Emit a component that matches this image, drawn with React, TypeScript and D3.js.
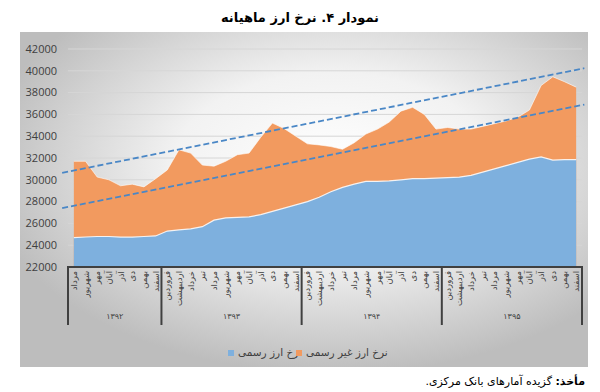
import React from 'react';
import * as d3 from 'd3';

const monthNames = ['فروردین', 'اردیبهشت', 'خرداد', 'تیر', 'مرداد', 'شهریور', 'مهر', 'آبان', 'آذر', 'دی', 'بهمن', 'اسفند'];
const years = ['۱۳۹۲', '۱۳۹۳', '۱۳۹۴', '۱۳۹۵'];
const yearStartMonth = [4, 0, 0, 0];

const officialRate = [
  24700, 24750, 24800, 24800, 24750, 24750, 24800, 24850,
  25300, 25400, 25500, 25700, 26300, 26500, 26550, 26600, 26800, 27100, 27400, 27700,
  28000, 28400, 28900, 29300, 29600, 29850, 29850, 29900, 30000, 30100, 30100, 30150,
  30200, 30250, 30400, 30700, 31000, 31300, 31600, 31900, 32100, 31800, 31850, 31850,
];
const freeRate = [
  31700, 31700, 30250, 30000, 29450, 29600, 29350, 30100,
  30900, 32750, 32450, 31350, 31250, 31700, 32300, 32450, 33900, 35200, 34700, 34000,
  33300, 33200, 33050, 32800, 33400, 34200, 34650, 35300, 36300, 36650, 36000, 34650,
  34800, 34650, 34650, 34900, 35150, 35400, 35750, 36400, 38650, 39450, 39000, 38500,
];
// dashed trend lines: [start, end] values at index positions trendIdx
const trendIdx = [-1, 43.7];
const trendFree = [30640, 40235];
const trendOfficial = [27400, 36900];
const yTicks = [22000, 24000, 26000, 28000, 30000, 32000, 34000, 36000, 38000, 40000, 42000];

const W = 600;
const H = 392;
const BLUE = '#7EB0DE';
const ORANGE = '#F29A5F';
const TREND = '#4A87C6';
const FA = '"DejaVu Sans", sans-serif';

export default function App() {
  const months: { name: string; year: number }[] = [];
  years.forEach((_, yi) => {
    for (let m = yearStartMonth[yi]; m < 12; m++) months.push({ name: monthNames[m], year: yi });
  });

  const x = d3.scaleBand<number>().domain(months.map((_, i) => i)).range([68, 582]);
  const bw = x.bandwidth();
  const cx = (i: number) => (x(i) as number) + bw / 2;
  const xLin = d3.scaleLinear().domain([0, months.length - 1]).range([cx(0), cx(months.length - 1)]);
  const y = d3.scaleLinear().domain([22000, 42000]).range([267, 49]);

  const area = d3.area<number>().x((_, i) => cx(i)).y0(y(22000)).y1(d => y(d));
  const line = d3.line<number>().x((_, i) => cx(i)).y(d => y(d));
  const trendLine = d3.line<number>().x((_, i) => xLin(trendIdx[i])).y(d => y(d));

  const groupStarts: number[] = [];
  const groupCounts = years.map((_, yi) => 12 - yearStartMonth[yi]);
  let acc = 0;
  groupCounts.forEach(c => { groupStarts.push(acc); acc += c; });

  return (
    <div style={{ position: 'absolute', left: 0, top: 0 }}>
      <svg width={W} height={H} style={{ display: 'block' }}>
        <defs>
          <radialGradient id="bg" cx="55%" cy="40%" r="62%">
            <stop offset="0%" stopColor="#ffffff" />
            <stop offset="45%" stopColor="#f2f2f2" />
            <stop offset="100%" stopColor="#bdbdbd" />
          </radialGradient>
        </defs>
        <rect x={0} y={0} width={W} height={H} fill="#fff" />
        <text x={300} y={22} textAnchor="middle" fontFamily={FA} fontWeight="bold" fontSize={13} fill="#000">
          نمودار ۴. نرخ ارز ماهیانه
        </text>
        <rect x={20} y={32} width={568} height={335} fill="url(#bg)" />

        {yTicks.map(t => (
          <g key={t}>
            <line x1={68} x2={582} y1={y(t)} y2={y(t)} stroke="#d6d6d6" strokeWidth={1} />
            <text x={57} y={y(t)} dy="0.35em" textAnchor="end" fontFamily="'Open Sans', sans-serif" fontSize={11} fill="#404040">
              {t}
            </text>
          </g>
        ))}

        <path d={area(freeRate) || ''} fill={ORANGE} />
        <path d={line(freeRate) || ''} fill="none" stroke="#fff" strokeOpacity={0.6} strokeWidth={1} />
        <path d={area(officialRate) || ''} fill={BLUE} />
        <path d={line(officialRate) || ''} fill="none" stroke="#fff" strokeOpacity={0.85} strokeWidth={1.2} />

        <path d={trendLine(trendFree) || ''} fill="none" stroke={TREND} strokeWidth={1.8} strokeDasharray="6,3" />
        <path d={trendLine(trendOfficial) || ''} fill="none" stroke={TREND} strokeWidth={1.8} strokeDasharray="6,3" />

        {/* category axis */}
        <line x1={67} x2={583} y1={267} y2={267} stroke="#404040" strokeWidth={2} />
        {groupStarts.map((s, gi) => (
          <line key={'s' + gi} x1={x(s) as number} x2={x(s) as number} y1={266} y2={325} stroke="#404040" strokeWidth={2} />
        ))}
        <line x1={582} x2={582} y1={266} y2={325} stroke="#404040" strokeWidth={2} />
        {months.map((m, i) => (
          <text
            key={'m' + i}
            transform={`translate(${cx(i) + 3},271) rotate(-90)`}
            textAnchor="end"
            fontFamily={FA}
            fontSize={8.5}
            fill="#404040"
          >
            {m.name}
          </text>
        ))}
        {years.map((yr, gi) => {
          const start = x(groupStarts[gi]) as number;
          const end = start + groupCounts[gi] * bw;
          return (
            <text key={yr} x={(start + end) / 2} y={319} textAnchor="middle" fontFamily={FA} fontSize={8} fill="#404040">
              {yr}
            </text>
          );
        })}

        {/* legend */}
        <rect x={228} y={350} width={6} height={6} fill={BLUE} />
        <text x={238} y={356} fontFamily={FA} fontSize={10.5} fill="#404040">نرخ ارز رسمی</text>
        <rect x={296} y={350} width={6} height={6} fill={ORANGE} />
        <text x={306} y={356} fontFamily={FA} fontSize={10.5} fill="#404040">نرخ ارز غیر رسمی</text>

        <text x={585} y={385} textAnchor="start" direction="rtl" fontFamily={FA} fontSize={11} fill="#000">
          <tspan fontWeight="bold">مأخذ:</tspan> گزیده آمارهای بانک مرکزی.
        </text>
      </svg>
    </div>
  );
}
